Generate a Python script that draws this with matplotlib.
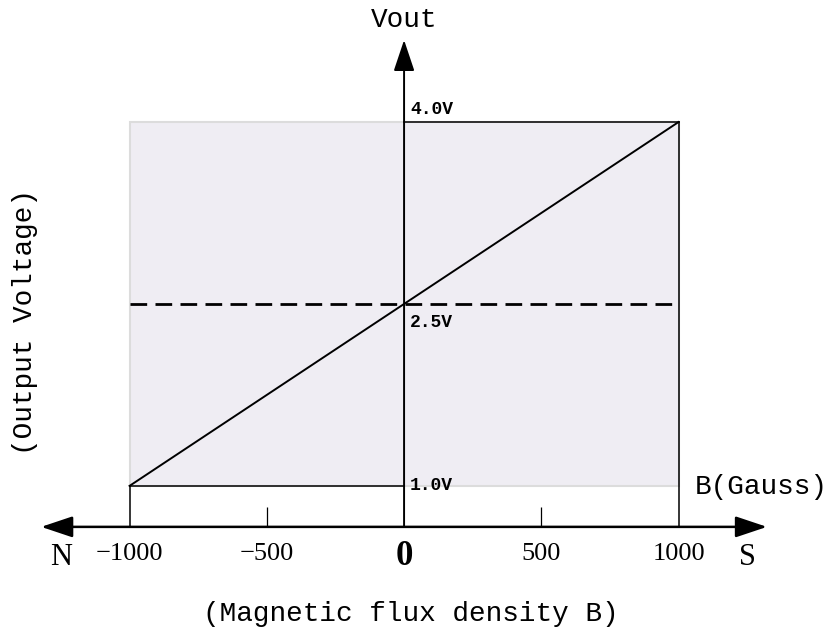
import matplotlib.pyplot as plt
from matplotlib.patches import Rectangle

# data
b_range = [-1000, 1000]          # Gauss
v_range = [1.0, 4.0]             # V
v_mid = 2.5
tick_vals = [-1000, -500, 0, 500, 1000]
tick_labels = ["\u22121000", "\u2212500", "0", "500", "1000"]
volt_labels = ["4.0V", "2.5V", "1.0V"]
volt_vals = [4.0, 2.5, 1.0]

mono = "Liberation Mono"
serif = "Liberation Serif"

fig = plt.figure(figsize=(8.29, 6.41), dpi=100)
ax = fig.add_axes([0, 0, 1, 1])
ax.set_xlim(-1472, 1548)
ax.set_ylim(-0.279, 5.006)
ax.axis("off")

axis_y = 0.662
x_tip = 1322
y_tip = 4.676

# shaded output range
ax.add_patch(Rectangle((b_range[0], v_range[0]), b_range[1] - b_range[0], v_range[1] - v_range[0],
                       facecolor="#efedf3", edgecolor="#dcdcdc", lw=1.5, zorder=1))

# dark outline parts
ax.plot([0, b_range[1]], [v_range[1], v_range[1]], color="black", lw=1.1, zorder=2)
ax.plot([b_range[1], b_range[1]], [axis_y, v_range[1]], color="black", lw=1.1, zorder=2)
ax.plot([b_range[0], 0], [v_range[0], v_range[0]], color="black", lw=1.1, zorder=2)
ax.plot([b_range[0], b_range[0]], [axis_y, v_range[0]], color="black", lw=1.1, zorder=2)

# transfer line and mid level
ax.plot(b_range, v_range, color="black", lw=1.4, zorder=3)
ax.plot([b_range[0], b_range[1]], [v_mid, v_mid], color="black", lw=2.0,
        dashes=(6, 3), zorder=3)

# axes with arrows
style = "<|-|>,head_length=1.94,head_width=0.65"
ax.annotate("", xy=(x_tip, axis_y), xytext=(-x_tip, axis_y),
            arrowprops=dict(arrowstyle=style, mutation_scale=10, lw=1.8,
                            color="black", shrinkA=0, shrinkB=0), zorder=4)
ax.annotate("", xy=(0, y_tip), xytext=(0, axis_y),
            arrowprops=dict(arrowstyle="-|>,head_length=1.94,head_width=0.65",
                            mutation_scale=10, lw=1.4, color="black",
                            shrinkA=0, shrinkB=0), zorder=4)

# small ticks
ax.vlines([-500, 500], axis_y, 0.826, color="black", lw=0.9)

# tick labels
for val, lab in zip(tick_vals, tick_labels):
    if val == 0:
        ax.text(val, 0.42, lab, fontsize=25, fontweight="bold", family=serif,
                ha="center", va="center")
    else:
        ax.text(val, 0.44, lab, fontsize=19, family=serif, ha="center", va="center")

for val, lab in zip(volt_vals, volt_labels):
    yy = val + 0.1 if val == 4.0 else val - 0.15 if val == 2.5 else val
    ax.text(22, yy, lab, fontsize=13, fontweight="bold", family=mono,
            ha="left", va="center")

ax.text(-1250, 0.41, "N", fontsize=22, family=serif, ha="center", va="center")
ax.text(1250, 0.41, "S", fontsize=22, family=serif, ha="center", va="center")
ax.text(1060, 0.99, "B(Gauss)", fontsize=20, family=mono, ha="left", va="center")
ax.text(0, 4.84, "Vout", fontsize=20, family=mono, ha="center", va="center")
ax.text(25, -0.06, "(Magnetic flux density B)", fontsize=20, family=mono,
        ha="center", va="center")
ax.text(-1380, 2.35, "(Output Voltage)", fontsize=20, family=mono, rotation=90,
        ha="center", va="center")

fig.savefig("out.png", dpi=100)
